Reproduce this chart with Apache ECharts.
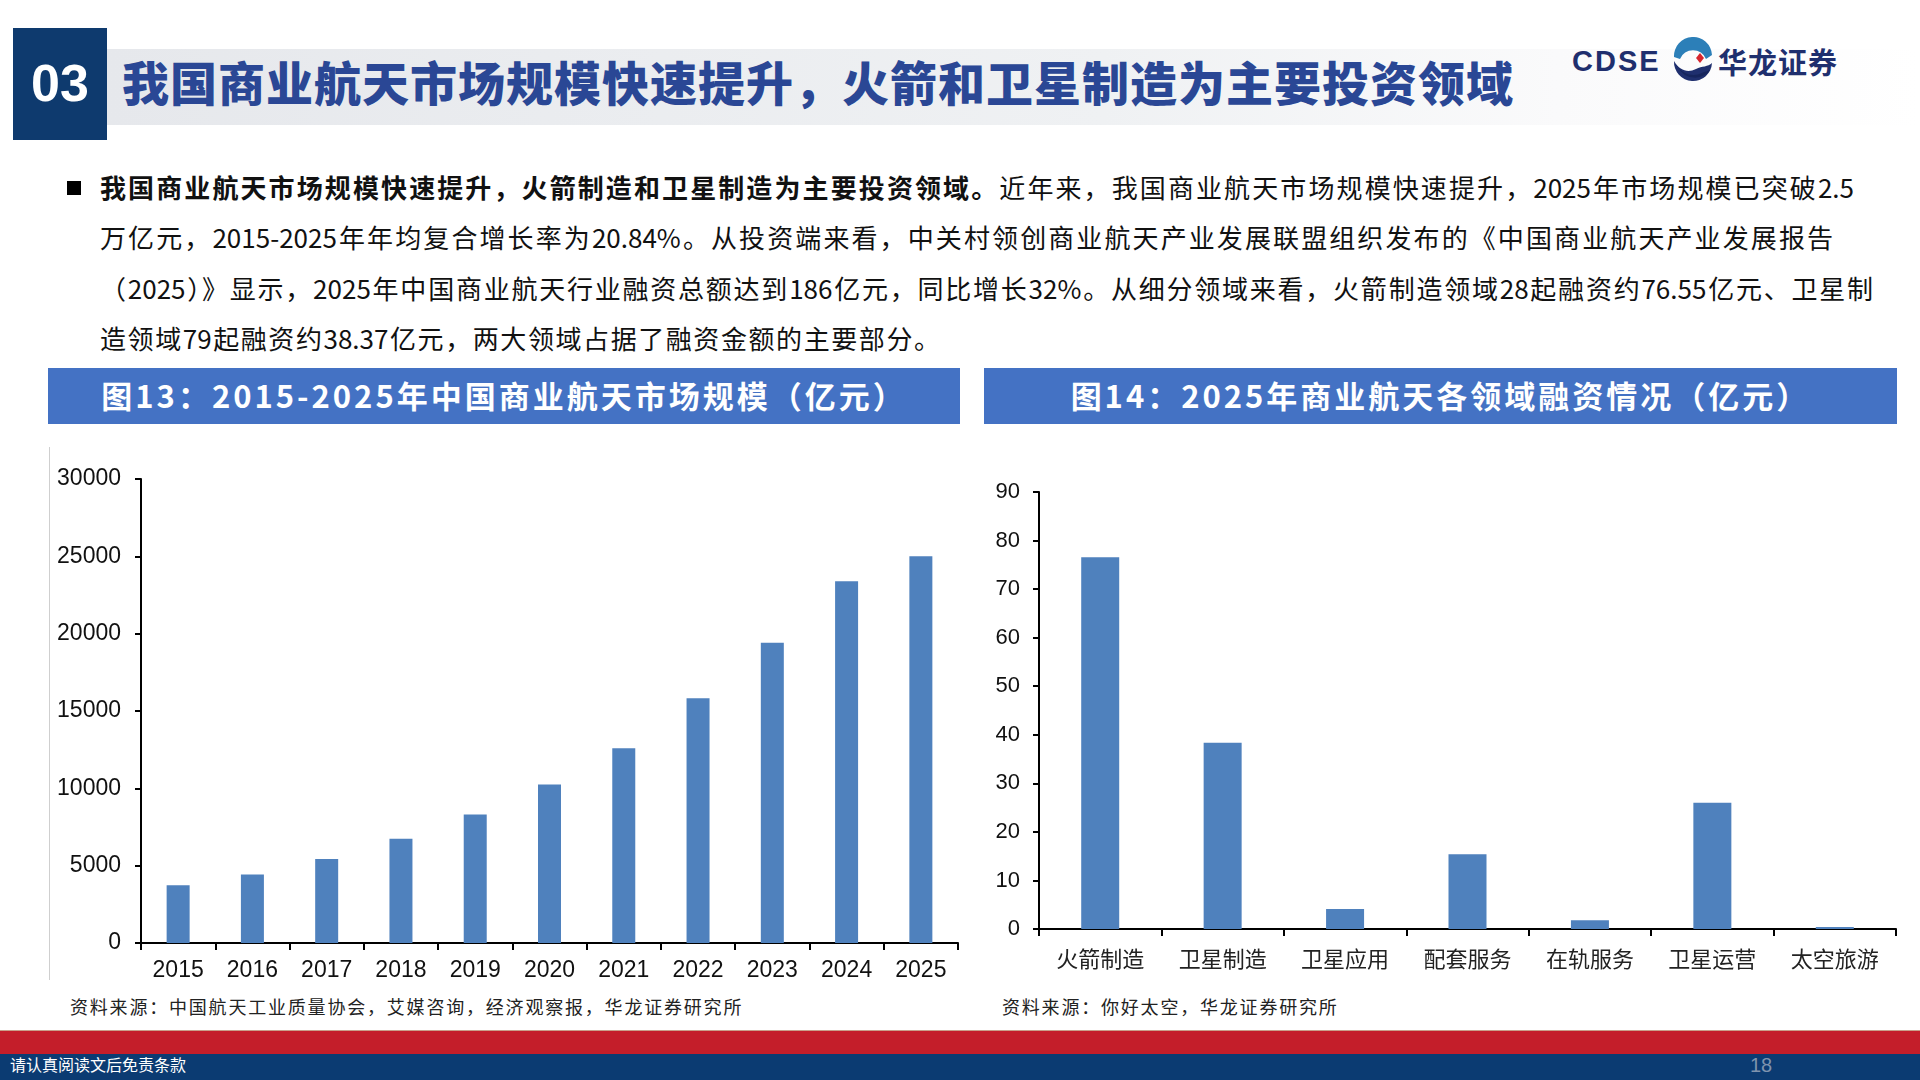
<!DOCTYPE html>
<html>
<head>
<meta charset="utf-8">
<script src="https://cdn.jsdelivr.net/npm/echarts@6/dist/echarts.min.js"></script>
<style>
  html, body { margin:0; padding:0; width:1920px; height:1080px; overflow:hidden; background:#fff; font-family:"Noto Sans CJK SC", sans-serif; }
  .abs { position:absolute; }
  #chart { position:absolute; left:0; top:0; width:1920px; height:1080px; z-index:2; }
  .titleband { left:107px; top:49px; width:1813px; height:76px; background:linear-gradient(to right,#E6E8EC 0%,#EFF1F3 55%,#FAFAFB 80%,#FFFFFF 100%); }
  .numbox { left:13px; top:28px; width:94px; height:112px; background:#0E3A6E; color:#fff; font-family:"Liberation Sans",Arial,sans-serif; font-weight:bold; font-size:52px; line-height:110px; text-align:center; }
  .title { left:122px; top:43px; height:76px; line-height:76px; font-size:47px; font-weight:900; color:#2A4795; letter-spacing:1px; white-space:nowrap; }
  .line { position:absolute; left:100px; height:50px; line-height:50px; font-size:26px; color:#111; text-align:justify; text-align-last:justify; white-space:nowrap; }
  .bullet { left:67px; top:181px; width:14px; height:14px; background:#000; }
  .hdr { top:368px; height:56px; background:#4472C4; color:#fff; font-size:31px; font-weight:bold; line-height:54px; text-align:center; letter-spacing:3px; white-space:nowrap; }
  .src { top:994px; font-size:18px; color:#222; letter-spacing:1.8px; white-space:nowrap; line-height:24px; }
  .red { left:0; top:1030px; width:1920px; height:24px; background:#C41E2A; border-top:1px solid #C9A08A; box-sizing:border-box; }
  .navy { left:0; top:1054px; width:1920px; height:26px; background:#0B3B72; }
  .foot { left:10px; top:1052px; height:24px; line-height:24px; font-size:16px; color:#fff; white-space:nowrap; }
  .pnum { left:1750px; top:1052px; height:26px; line-height:26px; font-size:20px; color:#7F93AE; font-family:"Liberation Sans",Arial,sans-serif; }
  .vline { left:49px; top:447px; width:1px; height:533px; background:#CFCFCF; }
  .logo-t { top:46px; height:30px; line-height:30px; font-size:29px; font-weight:bold; color:#1F2F6E; white-space:nowrap; }
</style>
</head>
<body>
<div class="abs titleband"></div>
<div class="abs numbox">03</div>
<div class="abs title">我国商业航天市场规模快速提升，火箭和卫星制造为主要投资领域</div>

<div class="abs logo-t" style="left:1572px;font-family:'Liberation Sans',Arial,sans-serif;letter-spacing:2px;">CDSE</div>
<svg class="abs" style="left:1670px;top:37px;" width="46" height="46" viewBox="0 0 46 46">
  <path d="M4 20 A19 19 0 0 1 42 18 L36 22 A14 14 0 0 0 10 22 Z" fill="#2C7FB8"/>
  <path d="M4 24 C10 34 18 36 26 32 C32 29 38 30 42 26 A19 19 0 0 1 4 24 Z" fill="#1F2F6E"/>
  <path d="M8 30 C14 38 24 40 32 36 C36 34 40 34 41 32 A19 19 0 0 1 8 30 Z" fill="#16255C"/>
  <path d="M30 16 L34 21 L30 26 L26 21 Z" fill="#D7262E"/>
</svg>
<div class="abs logo-t" style="left:1718px;letter-spacing:1px;">华龙证券</div>

<div class="abs bullet"></div>
<div class="line" style="top:162px;width:1754px;"><b>我国商业航天市场规模快速提升，火箭制造和卫星制造为主要投资领域。</b>近年来，我国商业航天市场规模快速提升，2025年市场规模已突破2.5</div>
<div class="line" style="top:212px;width:1733px;">万亿元，2015-2025年年均复合增长率为20.84%。从投资端来看，中关村领创商业航天产业发展联盟组织发布的《中国商业航天产业发展报告</div>
<div class="line" style="top:263px;width:1773px;">（2025）》显示，2025年中国商业航天行业融资总额达到186亿元，同比增长32%。从细分领域来看，火箭制造领域28起融资约76.55亿元、卫星制</div>
<div class="line" style="top:313px;width:840px;">造领域79起融资约38.37亿元，两大领域占据了融资金额的主要部分。</div>

<div class="abs hdr" style="left:48px;width:912px;">图13：2015-2025年中国商业航天市场规模（亿元）</div>
<div class="abs hdr" style="left:984px;width:913px;">图14：2025年商业航天各领域融资情况（亿元）</div>

<div class="abs vline"></div>

<div class="abs src" style="left:70px;">资料来源：中国航天工业质量协会，艾媒咨询，经济观察报，华龙证券研究所</div>
<div class="abs src" style="left:1002px;">资料来源：你好太空，华龙证券研究所</div>

<div class="abs red"></div>
<div class="abs navy"></div>
<div class="abs foot">请认真阅读文后免责条款</div>
<div class="abs pnum">18</div>

<div id="chart"></div>
<script>
// ---- data ----
const years = ['2015','2016','2017','2018','2019','2020','2021','2022','2023','2024','2025'];
const marketSize = [3740, 4430, 5430, 6740, 8310, 10250, 12590, 15820, 19420, 23390, 25000];
const sectors = ['火箭制造','卫星制造','卫星应用','配套服务','在轨服务','卫星运营','太空旅游'];
const financing = [76.55, 38.37, 4.1, 15.4, 1.8, 26.0, 0.4];
const leftAxisMax = 30000, leftAxisStep = 5000;
const rightAxisMax = 90, rightAxisStep = 10;

const chart = echarts.init(document.getElementById('chart'), null, {renderer:'canvas'});
const axisLineStyle = { show:true, lineStyle:{ color:'#000', width:2 } };
const tickStyle = { show:true, length:6, lineStyle:{ color:'#000', width:2 } };
chart.setOption({
  backgroundColor: 'transparent',
  animation: false,
  grid: [
    { left:141, top:479, width:817, height:464, containLabel:false },
    { left:1039, top:492, width:857, height:437, containLabel:false }
  ],
  xAxis: [
    { type:'category', gridIndex:0, data: years, boundaryGap:true,
      axisLine: axisLineStyle, axisTick: { show:true, length:7, alignWithLabel:false, lineStyle:{color:'#000', width:2} },
      axisLabel: { color:'#111', fontSize:23, fontFamily:'Liberation Sans, Arial, sans-serif', margin:16, interval:0 } },
    { type:'category', gridIndex:1, data: sectors, boundaryGap:true,
      axisLine: axisLineStyle, axisTick: { show:true, length:7, alignWithLabel:false, lineStyle:{color:'#000', width:2} },
      axisLabel: { color:'#222', fontSize:22, fontFamily:'Noto Sans CJK SC, sans-serif', margin:19, interval:0 } }
  ],
  yAxis: [
    { type:'value', gridIndex:0, min:0, max:leftAxisMax, interval:leftAxisStep,
      axisLine: axisLineStyle, axisTick: tickStyle, splitLine:{show:false},
      axisLabel: { color:'#111', fontSize:23, fontFamily:'Liberation Sans, Arial, sans-serif', margin:20, formatter: v => String(v) } },
    { type:'value', gridIndex:1, min:0, max:rightAxisMax, interval:rightAxisStep,
      axisLine: axisLineStyle, axisTick: tickStyle, splitLine:{show:false},
      axisLabel: { color:'#111', fontSize:22, fontFamily:'Liberation Sans, Arial, sans-serif', margin:19, formatter: v => String(v) } }
  ],
  series: [
    { type:'bar', xAxisIndex:0, yAxisIndex:0, data: marketSize, barWidth:23, itemStyle:{ color:'#4F81BD' } },
    { type:'bar', xAxisIndex:1, yAxisIndex:1, data: financing, barWidth:38, itemStyle:{ color:'#4F81BD' } }
  ]
});
</script>
</body>
</html>
